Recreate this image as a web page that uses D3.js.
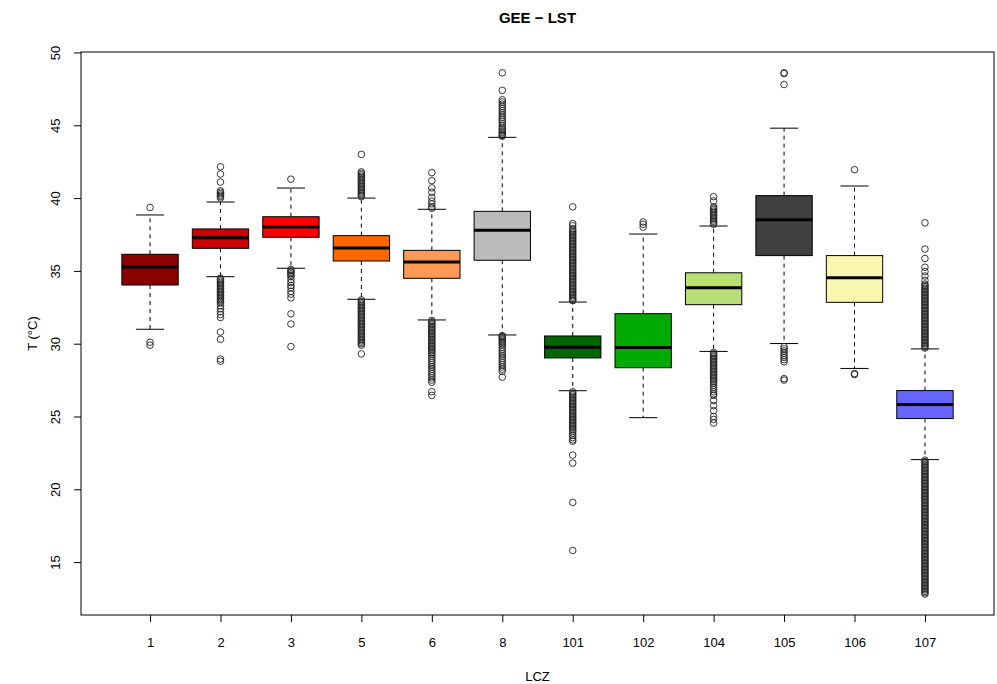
<!DOCTYPE html>
<html>
<head>
<meta charset="utf-8">
<script src="https://cdn.jsdelivr.net/npm/d3@7"></script>
<style>
  body { margin: 0; background: #fff; }
  svg text { font-family: "Liberation Sans", Arial, Helvetica, sans-serif; fill: #000; }
</style>
</head>
<body>
<svg id="chart" width="997" height="684"></svg>
<script>
// Land surface temperature (°C) per Local Climate Zone class
const categories = ["1", "2", "3", "5", "6", "8", "101", "102", "104", "105", "106", "107"];
const boxColors  = ["#8B0000", "#CD0000", "#FF0000", "#FF6600", "#FF9955", "#BBBBBB",
                    "#006600", "#00AA00", "#B9DD77", "#3F3F3F", "#F9F6AF", "#6666FF"];

// five-number summaries
const whiskerLow  = [30.99, 34.60, 35.18, 33.05, 31.63, 30.60, 26.77, 24.92, 29.47, 30.01, 28.30, 22.04];
const quartile1   = [34.03, 36.55, 37.31, 35.68, 34.49, 35.73, 29.02, 28.35, 32.68, 36.05, 32.84, 24.86];
const medians     = [35.27, 37.28, 38.01, 36.57, 35.61, 37.79, 29.75, 29.73, 33.84, 38.52, 34.53, 25.82];
const quartile3   = [36.14, 37.88, 38.72, 37.42, 36.41, 39.09, 30.53, 32.06, 34.87, 40.17, 36.05, 26.78];
const whiskerHigh = [38.84, 39.73, 40.69, 40.00, 39.23, 44.17, 32.86, 37.53, 38.08, 44.80, 40.83, 29.64];

// points beyond the whiskers, one list per class
const outliers1 = [39.35, 30.1, 29.9];
const outliers2 = [42.15, 41.65, 41.1, 40.5, 40.4, 40.3, 40.2, 40.1, 40.0,
  34.5, 34.4, 34.3, 34.2, 34.1, 34.0, 33.9, 33.8, 33.7, 33.6, 33.5, 33.4, 33.3, 33.2, 33.1, 33.0,
  32.9, 32.8, 32.6, 32.4, 32.2, 32.0, 31.8, 30.8, 30.3, 28.95, 28.8];
const outliers3 = [41.3, 35.1, 35.0, 34.9, 34.8, 34.7, 34.6, 34.4, 34.2, 34.0, 33.85, 33.6, 33.4, 33.15,
  32.05, 31.35, 29.8];
const outliers5 = [43.0, 41.8, 41.7, 41.6, 41.5, 41.4, 41.3, 41.2, 41.1, 41.0, 40.9, 40.8, 40.7, 40.6,
  40.5, 40.4, 40.3, 40.2, 40.1,
  33.0, 32.9, 32.8, 32.7, 32.6, 32.5, 32.4, 32.3, 32.2, 32.1, 32.0, 31.9, 31.8, 31.7, 31.6, 31.5,
  31.4, 31.3, 31.2, 31.1, 31.0, 30.9, 30.8, 30.7, 30.6, 30.5, 30.4, 30.3, 30.2, 30.1, 30.0, 29.9, 29.3];
const outliers6 = [41.75, 41.2, 40.7, 40.4, 40.05, 39.8, 39.6, 39.4, 39.3,
  31.6, 31.5, 31.4, 31.3, 31.2, 31.1, 31.0, 30.9, 30.8, 30.7, 30.6, 30.5, 30.4, 30.3, 30.2, 30.1,
  30.0, 29.9, 29.8, 29.7, 29.6, 29.5, 29.4, 29.3, 29.15, 29.0, 28.85, 28.7, 28.55, 28.4, 28.25,
  28.1, 27.95, 27.8, 27.65, 27.5, 27.35, 26.7, 26.45];
const outliers8 = [48.6, 47.4, 46.75, 46.6, 46.45, 46.3, 46.15, 46.0, 45.85, 45.7, 45.55, 45.4, 45.25,
  45.1, 44.95, 44.8, 44.7, 44.6, 44.5, 44.4, 44.3, 44.25,
  30.55, 30.5, 30.4, 30.3, 30.2, 30.1, 30.0, 29.9, 29.75, 29.6, 29.45, 29.3, 29.15, 29.0, 28.85,
  28.7, 28.55, 28.4, 28.25, 28.1, 27.7];
const outliers101 = [39.4, 38.25, 38.1,
  37.9, 37.8, 37.7, 37.6, 37.5, 37.4, 37.3, 37.2, 37.1, 37.0, 36.9, 36.8, 36.7, 36.6, 36.5, 36.4,
  36.3, 36.2, 36.1, 36.0, 35.9, 35.8, 35.7, 35.6, 35.5, 35.4, 35.3, 35.2, 35.1, 35.0, 34.9, 34.8,
  34.7, 34.6, 34.5, 34.4, 34.3, 34.2, 34.1, 34.0, 33.9, 33.8, 33.7, 33.6, 33.5, 33.4, 33.3, 33.2,
  33.1, 33.0, 32.95,
  26.7, 26.6, 26.5, 26.4, 26.3, 26.2, 26.1, 26.0, 25.9, 25.8, 25.7, 25.6, 25.5, 25.4, 25.3, 25.2,
  25.1, 25.0, 24.9, 24.8, 24.7, 24.6, 24.5, 24.4, 24.3, 24.2, 24.1, 24.0, 23.85, 23.7, 23.55, 23.4,
  23.3, 22.35, 21.8, 19.1, 15.8];
const outliers102 = [38.36, 38.2, 38.0];
const outliers104 = [40.1, 39.8, 39.4, 39.3, 39.2, 39.1, 39.0, 38.9, 38.8, 38.7, 38.6, 38.5, 38.4, 38.3, 38.2,
  29.4, 29.3, 29.2, 29.1, 29.0, 28.9, 28.8, 28.7, 28.6, 28.5, 28.4, 28.3, 28.2, 28.1, 28.0, 27.9,
  27.8, 27.7, 27.6, 27.5, 27.4, 27.3, 27.15, 27.0, 26.85, 26.7, 26.55, 26.45, 26.1, 25.75, 25.4,
  25.0, 24.8, 24.55];
const outliers105 = [48.6, 48.55, 47.8, 29.8, 29.65, 29.5, 29.35, 29.2, 29.05, 28.9, 28.75, 27.6, 27.5];
const outliers106 = [41.95, 27.95, 27.88];
const outliers107 = [38.3, 36.5, 35.85, 35.25, 34.95, 34.65, 34.35,
  34.1, 34.0, 33.9, 33.8, 33.7, 33.6, 33.5, 33.4, 33.3, 33.2, 33.1, 33.0, 32.9, 32.8, 32.7, 32.6,
  32.5, 32.4, 32.3, 32.2, 32.1, 32.0, 31.9, 31.8, 31.7, 31.6, 31.5, 31.4, 31.3, 31.2, 31.1, 31.0,
  30.9, 30.8, 30.7, 30.6, 30.5, 30.4, 30.3, 30.2, 30.1, 30.0, 29.9, 29.8, 29.7,
  22.0, 21.9, 21.8, 21.7, 21.6, 21.5, 21.4, 21.3, 21.2, 21.1, 21.0, 20.9, 20.8, 20.7, 20.6, 20.5,
  20.4, 20.3, 20.2, 20.1, 20.0, 19.9, 19.8, 19.7, 19.6, 19.5, 19.4, 19.3, 19.2, 19.1, 19.0, 18.9,
  18.8, 18.7, 18.6, 18.5, 18.4, 18.3, 18.2, 18.1, 18.0, 17.9, 17.8, 17.7, 17.6, 17.5, 17.4, 17.3,
  17.2, 17.1, 17.0, 16.9, 16.8, 16.7, 16.6, 16.5, 16.4, 16.3, 16.2, 16.1, 16.0, 15.9, 15.8, 15.7,
  15.6, 15.5, 15.4, 15.3, 15.2, 15.1, 15.0, 14.9, 14.8, 14.7, 14.6, 14.5, 14.4, 14.3, 14.2, 14.1,
  14.0, 13.9, 13.8, 13.7, 13.6, 13.5, 13.4, 13.3, 13.2, 13.1, 13.0, 12.9, 12.8];
const outlierLists = [outliers1, outliers2, outliers3, outliers5, outliers6, outliers8,
                      outliers101, outliers102, outliers104, outliers105, outliers106, outliers107];

const yTicks = [15, 20, 25, 30, 35, 40, 45, 50];
const titleText = "GEE \u2212 LST";
const xTitle = "LCZ";
const yTitle = "T (\u00B0C)";

// plot frame
const frame = { left: 81, right: 994, top: 52, bottom: 615 };
const svg = d3.select("#chart");

// y range padded by 4% either side of the data extent
const allValues = whiskerLow.concat(whiskerHigh, ...outlierLists);
const [lo, hi] = d3.extent(allValues);
const pad = (hi - lo) * 0.04;
const y = d3.scaleLinear().domain([lo - pad, hi + pad]).range([frame.bottom, frame.top]);

const x = d3.scalePoint().domain(categories).range([frame.left, frame.right]).padding(0.98);
const boxW = x.step() * 0.8;
const stapleW = boxW * 0.5;

const rows = categories.map((c, i) => ({
  cat: c, color: boxColors[i],
  lw: whiskerLow[i], q1: quartile1[i], med: medians[i], q3: quartile3[i], uw: whiskerHigh[i],
  out: outlierLists[i]
}));

const g = svg.append("g");
const groups = g.selectAll("g.box").data(rows).join("g").attr("class", "box");

// whiskers (dashed)
groups.append("line")
  .attr("x1", d => x(d.cat)).attr("x2", d => x(d.cat))
  .attr("y1", d => y(d.q3)).attr("y2", d => y(d.uw))
  .attr("stroke", "#000").attr("stroke-width", 1).attr("stroke-dasharray", "4,4");
groups.append("line")
  .attr("x1", d => x(d.cat)).attr("x2", d => x(d.cat))
  .attr("y1", d => y(d.q1)).attr("y2", d => y(d.lw))
  .attr("stroke", "#000").attr("stroke-width", 1).attr("stroke-dasharray", "4,4");

// staples
["uw", "lw"].forEach(k => {
  groups.append("line")
    .attr("x1", d => x(d.cat) - stapleW / 2).attr("x2", d => x(d.cat) + stapleW / 2)
    .attr("y1", d => y(d[k])).attr("y2", d => y(d[k]))
    .attr("stroke", "#000").attr("stroke-width", 1);
});

// boxes
groups.append("rect")
  .attr("x", d => x(d.cat) - boxW / 2).attr("width", boxW)
  .attr("y", d => y(d.q3)).attr("height", d => y(d.q1) - y(d.q3))
  .attr("fill", d => d.color).attr("stroke", "#000").attr("stroke-width", 1);

// medians
groups.append("line")
  .attr("x1", d => x(d.cat) - boxW / 2).attr("x2", d => x(d.cat) + boxW / 2)
  .attr("y1", d => y(d.med)).attr("y2", d => y(d.med))
  .attr("stroke", "#000").attr("stroke-width", 3);

// outliers
groups.selectAll("circle")
  .data(d => d.out.map(v => ({ cat: d.cat, v })))
  .join("circle")
  .attr("cx", d => x(d.cat)).attr("cy", d => y(d.v)).attr("r", 3.3)
  .attr("fill", "none").attr("stroke", "#222").attr("stroke-width", 0.9);

// frame
svg.append("rect")
  .attr("x", frame.left).attr("y", frame.top)
  .attr("width", frame.right - frame.left).attr("height", frame.bottom - frame.top)
  .attr("fill", "none").attr("stroke", "#000").attr("stroke-width", 1);

// x axis
const xAxis = svg.append("g")
  .attr("transform", `translate(0,${frame.bottom})`)
  .call(d3.axisBottom(x).tickSize(7));
xAxis.select(".domain").remove();
xAxis.selectAll(".tick line").attr("stroke", "#000");
xAxis.selectAll(".tick text")
  .attr("y", 32).attr("dy", null)
  .attr("font-size", 13).attr("font-family", null);

// y axis
const yAxis = svg.append("g")
  .attr("transform", `translate(${frame.left},0)`)
  .call(d3.axisLeft(y).tickValues(yTicks).tickSize(7).tickFormat(d3.format("d")));
yAxis.select(".domain").remove();
yAxis.selectAll(".tick line").attr("stroke", "#000");
yAxis.selectAll(".tick text")
  .attr("x", null).attr("dy", null)
  .attr("transform", "translate(-21,0) rotate(-90)")
  .attr("text-anchor", "middle")
  .attr("font-size", 13).attr("font-family", null);

// titles
svg.append("text")
  .attr("x", (frame.left + frame.right) / 2).attr("y", 23)
  .attr("text-anchor", "middle").attr("font-size", 15).attr("font-weight", "bold")
  .text(titleText);
svg.append("text")
  .attr("x", (frame.left + frame.right) / 2).attr("y", 681)
  .attr("text-anchor", "middle").attr("font-size", 13)
  .text(xTitle);
svg.append("text")
  .attr("transform", `translate(37,${(frame.top + frame.bottom) / 2}) rotate(-90)`)
  .attr("text-anchor", "middle").attr("font-size", 13)
  .text(yTitle);
</script>
</body>
</html>
